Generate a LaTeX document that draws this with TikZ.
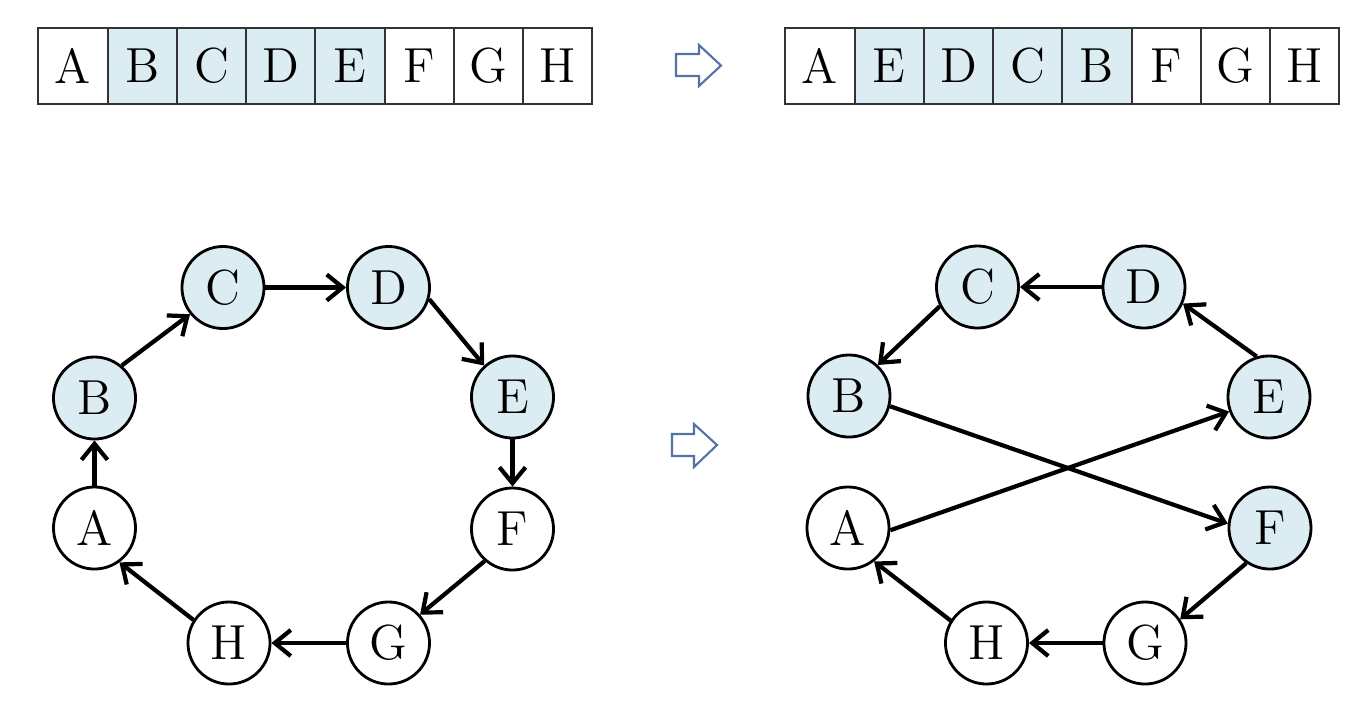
\documentclass[tikz,border=0pt]{standalone}
\usepackage{fontspec}
\usetikzlibrary{arrows.meta,positioning}
\definecolor{cellblue}{RGB}{219,237,243}
\definecolor{arrowgray}{RGB}{84,115,165}

\begin{document}
\begin{tikzpicture}[x=0.01cm,y=-0.01cm,>={Straight Barb[length=1.6mm,width=2.6mm]},
  every node/.style={font=\fontsize{14}{16}\selectfont},
  cell/.style={draw=black!80,line width=0.6pt,minimum width=6.92mm,minimum height=7.6mm,inner sep=0pt,outer sep=0pt},
  marked/.style={fill=cellblue},
  vertex/.style={circle,draw,line width=0.8pt,minimum size=8.2mm,inner sep=0pt},
  link/.style={->,line width=1.2pt},
  hollow/.style={draw=arrowgray,line width=0.6pt,line join=miter}]
\useasboundingbox (0,0) rectangle (1356,714);

% array before
\node[cell] (l1) at (73,66) {A};
\node[cell,marked,right=0pt of l1] (l2) {B};
\node[cell,marked,right=0pt of l2] (l3) {C};
\node[cell,marked,right=0pt of l3] (l4) {D};
\node[cell,marked,right=0pt of l4] (l5) {E};
\node[cell,right=0pt of l5] (l6) {F};
\node[cell,right=0pt of l6] (l7) {G};
\node[cell,right=0pt of l7] (l8) {H};

% array after
\node[cell] (r1) at (820,66) {A};
\node[cell,marked,right=0pt of r1] (r2) {E};
\node[cell,marked,right=0pt of r2] (r3) {D};
\node[cell,marked,right=0pt of r3] (r4) {C};
\node[cell,marked,right=0pt of r4] (r5) {B};
\node[cell,right=0pt of r5] (r6) {F};
\node[cell,right=0pt of r6] (r7) {G};
\node[cell,right=0pt of r7] (r8) {H};

\draw[hollow] (676,54) -- (699,54) -- (699,45) -- (721,65.5) -- (699,86) -- (699,76) -- (676,76) -- cycle;
\draw[hollow] (672,434) -- (694,434) -- (694,424) -- (717,445) -- (694,467) -- (694,456) -- (672,456) -- cycle;

% tour before
\node[vertex] (A1) at (94.5,528) {A};
\node[vertex,marked] (B1) at (94.5,398) {B};
\node[vertex,marked] (C1) at (223,287.5) {C};
\node[vertex,marked] (D1) at (388.5,287.5) {D};
\node[vertex,marked] (E1) at (512.5,397) {E};
\node[vertex] (F1) at (512.5,529) {F};
\node[vertex] (G1) at (388.5,643) {G};
\node[vertex] (H1) at (229,643) {H};

% tour after
\node[vertex] (A2) at (848,528) {A};
\node[vertex,marked] (B2) at (849,396) {B};
\node[vertex,marked] (C2) at (977.5,287) {C};
\node[vertex,marked] (D2) at (1144,287) {D};
\node[vertex,marked] (E2) at (1269,397) {E};
\node[vertex,marked] (F2) at (1270,528) {F};
\node[vertex] (G2) at (1145,643) {G};
\node[vertex] (H2) at (986.5,643) {H};

\path[link] (A1) edge (B1)
	(B1.50) edge (C1.219)
	(C1) edge (D1)
	(D1.344) edge (E1.132)
	(E1) edge (F1)
	(F1.229) edge (G1.42)
	(G1) edge (H1)
	(H1.147) edge (A1.306);

\path[link] (D2) edge (C2)
	(C2.207) edge (B2.47)
	(E2.107) edge (D2.337)
	(A2.357) edge (E2.200)
	(B2.346) edge (F2.174)
	(F2.236) edge (G2.34)
	(G2) edge (H2)
	(H2.148) edge (A2.308);

\end{tikzpicture}
\end{document}
